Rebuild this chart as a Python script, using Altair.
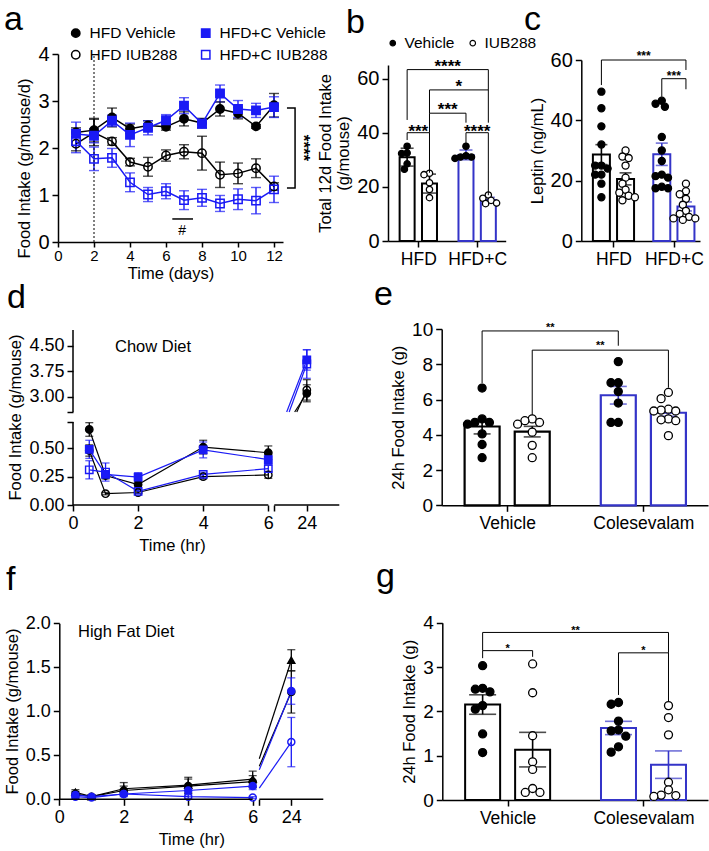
import altair as alt
import numpy as np
import pandas as pd

FONT = "Liberation Sans"
BLUE = "#1a1af5"
BARBLUE = "#3434c8"
W, H = 709, 851
TREATS = ["Vehicle", "IUB288"]

# ---------------- panel a data ----------------
a_days = [1, 2, 3, 4, 5, 6, 7, 8, 9, 10, 11, 12]
a_names = ["HFD Vehicle", "HFD IUB288", "HFD+C Vehicle", "HFD+C IUB288"]
a_hfd_veh = [2.33, 2.38, 2.65, 2.41, 2.48, 2.45, 2.62, 2.53, 2.83, 2.74, 2.46, 2.91]
a_hfd_veh_err = [0.10, 0.25, 0.20, 0.10, 0.10, 0.07, 0.15, 0.10, 0.15, 0.12, 0.04, 0.25]
a_hfdc_veh = [2.30, 2.26, 2.58, 2.28, 2.43, 2.59, 2.90, 2.52, 3.16, 2.83, 2.80, 2.87]
a_hfdc_veh_err = [0.25, 0.15, 0.12, 0.25, 0.15, 0.12, 0.17, 0.10, 0.18, 0.18, 0.15, 0.22]
a_hfd_iub = [2.09, 2.33, 2.14, 1.70, 1.60, 1.84, 1.92, 1.89, 1.43, 1.46, 1.57, 1.18]
a_hfd_iub_err = [0.15, 0.28, 0.08, 0.08, 0.20, 0.12, 0.15, 0.36, 0.27, 0.22, 0.20, 0.08]
a_hfdc_iub = [2.15, 1.77, 1.79, 1.27, 1.01, 1.08, 0.89, 0.94, 0.82, 0.91, 0.88, 1.12]
a_hfdc_iub_err = [0.25, 0.25, 0.20, 0.20, 0.15, 0.16, 0.20, 0.18, 0.17, 0.22, 0.28, 0.28]

# ---------------- panel b data (Total 12d food intake) ----------------
b_groups = ["HFD", "HFD+C"]
b_hfd_veh = [35.0, 32.5, 32.3, 28.5, 26.5]
b_hfd_iub = [25.0, 24.5, 21.5, 19.0, 16.0]
b_hfdc_veh = [35.0, 31.5, 31.0, 31.0, 30.5]
b_hfdc_iub = [17.0, 15.8, 15.0, 14.0, 13.8]
b_err = [3.3, 3.5, 1.8, 1.0]

# ---------------- panel c data (Leptin) ----------------
c_hfd_veh = [49.5, 44.0, 38.0, 32.0, 25.0, 25.0, 24.0, 22.0, 22.0, 19.0, 14.5]
c_hfd_iub = [30.0, 28.0, 27.5, 25.0, 21.0, 19.0, 17.0, 16.0, 15.0, 14.5, 13.5]
c_hfdc_veh = [46.5, 45.5, 44.5, 34.5, 30.0, 26.5, 22.0, 21.5, 21.0, 18.0, 17.5, 17.5]
c_hfdc_iub = [19.0, 16.5, 15.5, 14.0, 12.0, 10.0, 9.0, 8.0, 7.5, 7.5, 7.0]
c_err = [3.3, 2.0, 3.7, 1.5]

# ---------------- panel d data (Chow diet) ----------------
d_times = [0.5, 1, 2, 4, 6, 24]
d_hfd_veh = [0.665, 0.26, 0.18, 0.51, 0.46, 3.10]
d_hfd_veh_err = [0.06, 0.03, 0.03, 0.06, 0.06, 0.25]
d_hfd_iub = [0.48, 0.10, 0.11, 0.25, 0.265, 3.20]
d_hfd_iub_err = [0.05, 0.01, 0.01, 0.02, 0.03, 0.30]
d_c_veh = [0.49, 0.27, 0.245, 0.485, 0.40, 4.08]
d_c_veh_err = [0.08, 0.03, 0.04, 0.07, 0.04, 0.30]
d_c_iub = [0.31, 0.29, 0.12, 0.27, 0.32, 3.96]
d_c_iub_err = [0.08, 0.08, 0.02, 0.02, 0.03, 0.42]

# ---------------- panel e data ----------------
e_groups = ["Vehicle", "Colesevalam"]
e_veh_veh = [6.65, 4.9, 4.7, 4.7, 4.6, 4.05, 3.45, 2.7]
e_veh_iub = [4.9, 4.8, 4.7, 4.6, 4.15, 3.4, 2.7]
e_col_veh = [8.15, 6.95, 6.95, 6.45, 5.8, 4.7, 4.7]
e_col_iub = [6.4, 6.05, 5.45, 5.4, 5.35, 5.35, 4.9, 4.85, 4.8, 3.95]
e_err = [0.42, 0.30, 0.50, 0.20]

# ---------------- panel f data (High fat diet) ----------------
f_times = [0.5, 1, 2, 4, 6, 24]
f_s1 = [0.08, 0.03, 0.12, 0.16, 0.23, 1.58]
f_s1_err = [0.03, 0.02, 0.07, 0.09, 0.09, 0.12]
f_s2 = [0.06, 0.03, 0.10, 0.15, 0.20, 1.22]
f_s2_err = [0.03, 0.02, 0.05, 0.08, 0.07, 0.24]
f_s3 = [0.05, 0.03, 0.06, 0.10, 0.15, 1.23]
f_s3_err = [0.03, 0.02, 0.03, 0.04, 0.04, 0.15]
f_s4 = [0.03, 0.02, 0.06, 0.03, 0.02, 0.65]
f_s4_err = [0.02, 0.01, 0.02, 0.02, 0.01, 0.28]

# ---------------- panel g data ----------------
g_veh_veh = [3.03, 2.52, 2.5, 2.44, 2.13, 2.05, 1.49, 1.07]
g_veh_iub = [3.07, 2.42, 1.45, 0.86, 0.69, 0.26, 0.17, 0.17]
g_col_veh = [2.2, 2.16, 1.78, 1.58, 1.56, 1.44, 1.2, 1.08]
g_col_iub = [2.13, 1.86, 1.47, 0.4, 0.23, 0.11, 0.1, 0.08]
g_err = [0.22, 0.39, 0.15, 0.31]


# ================= helpers =================
def sc(dom, rng):
    return alt.Scale(domain=list(dom), range=list(rng), nice=False, zero=False)


def X(field, scale, axis=None):
    return alt.X(field, scale=scale, axis=axis) if axis is not None else alt.X(field, scale=scale)


def Y(field, scale, axis=None):
    return alt.Y(field, scale=scale, axis=axis) if axis is not None else alt.Y(field, scale=scale)


def left_axis(xpx, **kw):
    return alt.Axis(orient="left", offset=-xpx, titleFontWeight="normal", **kw)


def bottom_axis(ypx, **kw):
    return alt.Axis(orient="bottom", offset=ypx - H, titleFontWeight="normal", **kw)


def err_layers(df, xs, ys, cap_w, sw, xaxis=None, yaxis=None):
    rule = alt.Chart(df).mark_rule(strokeWidth=sw).encode(
        x=X("x:Q", xs, xaxis), y=Y("lo:Q", ys, yaxis), y2="hi:Q",
        color=alt.Color("col:N", scale=None))
    caps_df = pd.concat([df.assign(cy=df["lo"]), df.assign(cy=df["hi"])], ignore_index=True)
    caps = alt.Chart(caps_df).mark_tick(orient="horizontal", size=cap_w, thickness=sw).encode(
        x=X("x:Q", xs), y=Y("cy:Q", ys), color=alt.Color("col:N", scale=None))
    return [rule, caps]


def bracket_layers(brs, xs, ys, star_fs, sw=1.0):
    rows, trows = [], []
    for k, (xa, xb, ya, yb, top, lab, ystar) in enumerate(brs):
        for o, (bx, by) in enumerate([(xa, ya), (xa, top), (xb, top), (xb, yb)]):
            rows.append(dict(bid=k, o=o, x=bx, y=by))
        trows.append(dict(x=(xa + xb) / 2, y=ystar, t=lab))
    lines = alt.Chart(pd.DataFrame(rows)).mark_line(strokeWidth=sw, color="black").encode(
        x=X("x:Q", xs), y=Y("y:Q", ys), detail="bid:N", order=alt.Order("o:Q"))
    texts = alt.Chart(pd.DataFrame(trows)).mark_text(
        fontSize=star_fs, fontWeight="bold", font=FONT, color="black",
        baseline="alphabetic", align="center", dy=0.58 * star_fs).encode(
        x=X("x:Q", xs), y=Y("y:Q", ys), text="t:N")
    return [lines, texts]


def swarm(vals, ypx, diam, ppu):
    placed, offs = [], []
    cands = [0.0]
    for i in range(1, 20):
        cands += [-i * diam * 0.4, i * diam * 0.4]
    for v in vals:
        y = float(ypx(v))
        chosen = 0.0
        for c in cands:
            if all((c - px) ** 2 + (y - py) ** 2 >= (0.78 * diam) ** 2 for px, py in placed):
                chosen = c
                break
        placed.append((chosen, y))
        offs.append(chosen / ppu)
    return offs


def bar_panel(vals4, errs4, xdom, xrng, ydom, yrng, off, bar_w, diam, psize, cap_w,
              xlabels, brackets, star_fs, ylab_fs, xlab_fs, ytitle, yvals,
              bar_sw=2.0, legend=None):
    xs, ys = sc(xdom, xrng), sc(ydom, yrng)
    ppu = (xrng[1] - xrng[0]) / (xdom[1] - xdom[0])
    ypx = lambda v: np.interp(v, ydom, yrng)
    bar_rows, pt_rows, bx = [], [], []
    for i, vals in enumerate(vals4):
        g, t = divmod(i, 2)
        x = g + (off if t else -off)
        bx.append(x)
        m = float(np.mean(vals))
        col = "black" if g == 0 else BARBLUE
        bar_rows.append(dict(x=x, m=m, zero=0.0, lo=m - errs4[i], hi=m + errs4[i], col=col))
        for v, o in zip(vals, swarm(vals, ypx, diam, ppu)):
            pt_rows.append(dict(x=x + o, v=v, treat=TREATS[t], fc="black" if t == 0 else "white"))
    dfb, dfp = pd.DataFrame(bar_rows), pd.DataFrame(pt_rows)
    xaxis = bottom_axis(yrng[0], values=[0, 1], title=None, labelFontSize=xlab_fs,
                        labelExpr=f"datum.value < 0.5 ? '{xlabels[0]}' : '{xlabels[1]}'")
    yaxis = left_axis(xrng[0], values=yvals, title=ytitle, labelFontSize=ylab_fs, format="d",
                      titleY=(yrng[0] + yrng[1]) / 2)
    bars = alt.Chart(dfb).mark_bar(orient="vertical", size=bar_w, fill="white",
                                   strokeWidth=bar_sw).encode(
        x=X("x:Q", xs, xaxis), y=Y("m:Q", ys, yaxis), y2="zero:Q",
        stroke=alt.Stroke("col:N", scale=None))
    errs = err_layers(dfb, xs, ys, cap_w, 1.6)
    if legend is not None:
        fill = alt.Fill("treat:N", scale=alt.Scale(domain=TREATS, range=["black", "white"]),
                        legend=legend)
    else:
        fill = alt.Fill("fc:N", scale=None)
    pts = alt.Chart(dfp).mark_point(shape="circle", size=psize, strokeWidth=1.3, opacity=1,
                                    stroke="black").encode(
        x=X("x:Q", xs), y=Y("v:Q", ys), fill=fill)
    brs = [(bx[a], bx[b], ya, yb, top, lab, ys_) for (a, b, ya, yb, top, lab, ys_) in brackets]
    return alt.layer(bars, *errs, pts, *bracket_layers(brs, xs, ys, star_fs))


def broken_panel(times, series, xdom, xrng, ydom, yrng, xaxis, yaxis, cap_w, psize, lw,
                 vis_x, vis_y=None):
    xs, ys = sc(xdom, xrng), sc(ydom, yrng)
    fx = lambda v: np.interp(v, xdom, xrng)
    fy = lambda v: np.interp(v, ydom, yrng)
    ix = lambda p: np.interp(p, xrng, xdom)
    iy = lambda p: np.interp(p, yrng[::-1], ydom[::-1])
    err_rows, line_rows, pt_rows = [], [], []
    for name, vals, errs, col, shp, filled in series:
        for t, v, e in zip(times, vals, errs):
            err_rows.append(dict(x=t, lo=v - e, hi=v + e, col=col))
            pt_rows.append(dict(x=t, v=v, col=col, shp=shp, fc=col if filled else "transparent"))
        for t, v in zip(times[:-1], vals[:-1]):
            line_rows.append(dict(key=name + "_a", x=t, v=v, col=col))
        x0, y0 = fx(times[-2]), fy(vals[-2])
        x1, y1 = fx(times[-1]), fy(vals[-1])
        tt = (vis_x - x0) / (x1 - x0)
        if vis_y is not None:
            tt = max(tt, (y0 - vis_y) / (y0 - y1))
        sx, sy = x0 + tt * (x1 - x0), y0 + tt * (y1 - y0)
        line_rows.append(dict(key=name + "_b", x=float(ix(sx)), v=float(iy(sy)), col=col))
        line_rows.append(dict(key=name + "_b", x=times[-1], v=vals[-1], col=col))
    dfe, dfl, dfp = pd.DataFrame(err_rows), pd.DataFrame(line_rows), pd.DataFrame(pt_rows)
    errs = err_layers(dfe, xs, ys, cap_w, 1.3, xaxis, yaxis)
    lines = alt.Chart(dfl).mark_line(strokeWidth=lw).encode(
        x=X("x:Q", xs), y=Y("v:Q", ys),
        color=alt.Color("col:N", scale=None), detail="key:N")
    pts = alt.Chart(dfp).mark_point(size=psize, strokeWidth=1.4, opacity=1).encode(
        x=X("x:Q", xs), y=Y("v:Q", ys),
        shape=alt.Shape("shp:N", scale=None), fill=alt.Fill("fc:N", scale=None),
        stroke=alt.Stroke("col:N", scale=None))
    return xs, ys, [*errs, lines, pts]


# ================= panel a =================
ax_x, ax_y = sc([0, 12.5], [58, 283]), sc([0, 4], [242, 54])
rows = []
for name, vals, errs in [("HFD Vehicle", a_hfd_veh, a_hfd_veh_err), ("HFD IUB288", a_hfd_iub, a_hfd_iub_err),
                         ("HFD+C Vehicle", a_hfdc_veh, a_hfdc_veh_err), ("HFD+C IUB288", a_hfdc_iub, a_hfdc_iub_err)]:
    col = "black" if "HFD+C" not in name else BLUE
    for d, v, e in zip(a_days, vals, errs):
        rows.append(dict(series=name, x=d, v=v, lo=v - e, hi=v + e, col=col))
dfa = pd.DataFrame(rows)
a_err = err_layers(dfa, ax_x, ax_y, 10, 1.4,
                   bottom_axis(242, values=list(range(0, 13, 2)), title="Time (days)",
                               labelFontSize=15, format="d", tickSize=5, labelPadding=1,
                               titlePadding=2),
                   left_axis(58, values=[0, 1, 2, 3, 4], title="Food Intake (g/mouse/d)",
                             labelFontSize=20, format="d", titleY=168))
a_lines = alt.Chart(dfa).mark_line(strokeWidth=1.5).encode(
    x=X("x:Q", ax_x), y=Y("v:Q", ax_y),
    color=alt.Color("col:N", scale=None), detail="series:N")
leg_a = alt.Legend(orient="none", legendX=68, legendY=25, columns=2, title=None,
                   labelFont=FONT, labelFontSize=15.5, labelColor="black", symbolSize=70,
                   symbolStrokeWidth=1.5, columnPadding=20, rowPadding=5, labelOffset=6, padding=0)
a_pts = alt.Chart(dfa).mark_point(size=70, strokeWidth=1.5, opacity=1).encode(
    x=X("x:Q", ax_x), y=Y("v:Q", ax_y),
    shape=alt.Shape("series:N", scale=alt.Scale(domain=a_names, range=["circle", "circle", "square", "square"]), legend=leg_a),
    fill=alt.Fill("series:N", scale=alt.Scale(domain=a_names, range=["black", "transparent", BLUE, "transparent"]), legend=leg_a),
    stroke=alt.Stroke("series:N", scale=alt.Scale(domain=a_names, range=["black", "black", BLUE, BLUE]), legend=leg_a))
a_dot = alt.Chart(pd.DataFrame({"x": [2], "y0": [0], "y1": [4]})).mark_rule(
    strokeDash=[2, 2], strokeWidth=1, color="black").encode(
    x=X("x:Q", ax_x), y=Y("y0:Q", ax_y), y2="y1:Q")
a_br = pd.DataFrame({"bid": [0, 0, 0, 0, 1, 1], "o": [0, 1, 2, 3, 0, 1],
                     "x": [12.72, 13.17, 13.17, 12.72, 6.35, 7.5],
                     "y": [2.85, 2.85, 1.15, 1.15, 0.49, 0.49]})
a_brl = alt.Chart(a_br).mark_line(strokeWidth=1.5, color="black").encode(
    x=X("x:Q", ax_x), y=Y("y:Q", ax_y), detail="bid:N", order=alt.Order("o:Q"))
a_star = alt.Chart(pd.DataFrame({"x": [13.6], "y": [2.0], "t": ["****"]})).mark_text(
    angle=90, fontSize=17, fontWeight="bold", font=FONT, color="black", baseline="middle").encode(
    x=X("x:Q", ax_x), y=Y("y:Q", ax_y), text="t:N")
a_hash = alt.Chart(pd.DataFrame({"x": [6.9], "y": [0.24], "t": ["#"]})).mark_text(
    fontSize=14, font=FONT, color="black", baseline="middle").encode(
    x=X("x:Q", ax_x), y=Y("y:Q", ax_y), text="t:N")
panel_a = alt.layer(*a_err, a_dot, a_lines, a_pts, a_brl, a_star, a_hash)

# ================= panel b =================
leg_b = alt.Legend(orient="none", legendX=385, legendY=35, direction="horizontal", title=None,
                   labelFont=FONT, labelFontSize=15.5, labelColor="black", symbolSize=30,
                   symbolStrokeColor="black", symbolStrokeWidth=1.2, columnPadding=10,
                   labelOffset=4, padding=0, symbolType="circle")
panel_b = bar_panel(
    [b_hfd_veh, b_hfd_iub, b_hfdc_veh, b_hfdc_iub], b_err,
    [-0.43, 1.4], [388, 505.7], [0, 65], [241, 65], 0.19, 15, 7.5, 40, 13,
    b_groups,
    [(0, 1, 37.3, 25.2, 40.0, "***", 42.2), (2, 3, 35.8, 16.9, 40.0, "****", 42.2),
     (1, 2, 40.0, 43.7, 47.2, "***", 50.2), (1, 3, 47.2, 43.7, 55.8, "*", 58.5),
     (0, 3, 44.7, 55.8, 63.3, "****", 66.2)],
    17, 20, 17.5, ["Total 12d Food Intake", "(g/mouse)"], [0, 20, 40, 60], legend=leg_b)

# ================= panel c =================
panel_c = bar_panel(
    [c_hfd_veh, c_hfd_iub, c_hfdc_veh, c_hfdc_iub], c_err,
    [-0.45, 1.35], [581.3, 700], [0, 60], [241, 60], 0.2, 17, 8.5, 50, 12,
    b_groups,
    [(0, 3, 51.7, 56.7, 60.0, "***", 62.2), (2, 3, 47.8, 50.3, 53.8, "***", 55.8)],
    12, 20, 17.5, "Leptin (ng/mL)", [0, 20, 40, 60])

# ================= panel d =================
d_xdom, d_xrng = [0, 6, 23, 25], [73, 268.3, 274.3, 339.3]
d_ydom, d_yrng = [0, 0.73, 2.55, 4.96], [505, 422.1, 412, 330]
d_xaxis = bottom_axis(505, values=[0, 2, 4, 6, 23, 24], title="Time (hr)", labelFontSize=18,
                      domain=False, titleX=172, format="d",
                      labelExpr="datum.value == 23 ? '' : datum.label")
d_yaxis = left_axis(73, values=[0, 0.25, 0.5, 0.73, 2.55, 3, 3.75, 4.5], format=".2f",
                    title="Food Intake (g/mouse)", labelFontSize=18, domain=False, titleY=417,
                    labelExpr="(datum.value == 0.73 || datum.value == 2.55) ? '' : datum.label")
d_xs, d_ys, d_layers = broken_panel(
    d_times,
    [("hfd_veh", d_hfd_veh, d_hfd_veh_err, "black", "circle", True),
     ("hfd_iub", d_hfd_iub, d_hfd_iub_err, "black", "circle", False),
     ("c_veh", d_c_veh, d_c_veh_err, BLUE, "square", True),
     ("c_iub", d_c_iub, d_c_iub_err, BLUE, "square", False)],
    d_xdom, d_xrng, d_ydom, d_yrng, d_xaxis, d_yaxis, 8, 55, 1.2,
    vis_x=274.3, vis_y=412)
d_axl = alt.Chart(pd.DataFrame({"x1": [0, 0, 0, 23], "y1": [0, 2.55, 0, 0],
                                "x2": [0, 0, 6.05, 25], "y2": [0.73, 4.96, 0, 0]})).mark_rule(
    strokeWidth=1.5, color="black").encode(
    x=X("x1:Q", d_xs), y=Y("y1:Q", d_ys), x2="x2:Q", y2="y2:Q")
d_lab = alt.Chart(pd.DataFrame({"x": [1.29], "y": [4.46], "t": ["Chow Diet"]})).mark_text(
    fontSize=16.5, font=FONT, color="black", align="left", baseline="middle").encode(
    x=X("x:Q", d_xs), y=Y("y:Q", d_ys), text="t:N")
panel_d = alt.layer(*d_layers, d_axl, d_lab)

# ================= panel e =================
panel_e = bar_panel(
    [e_veh_veh, e_veh_iub, e_col_veh, e_col_iub], e_err,
    [-0.444, 1.438], [441.7, 708], [0, 10], [505.3, 329], 0.184, 35, 9.5, 64, 17,
    e_groups,
    [(0, 2, 6.92, 9.05, 9.89, "**", 10.25), (1, 3, 5.12, 6.67, 8.8, "**", 9.2)],
    11, 19, 17.5, "24h Food Intake (g)", [0, 2, 4, 6, 8, 10], bar_sw=2.2)

# ================= panel f =================
f_xdom, f_xrng = [0, 6, 23, 25], [59.3, 252.7, 259.3, 323.3]
f_ydom, f_yrng = [0, 2], [799.3, 623.3]
f_xaxis = bottom_axis(799.3, values=[0, 2, 4, 6, 23, 24], title="Time (hr)", labelFontSize=18,
                      domain=False, format="d", labelExpr="datum.value == 23 ? '' : datum.label")
f_yaxis = left_axis(59.3, values=[0, 0.5, 1, 1.5, 2], format=".1f",
                    title="Food Intake (g/mouse)", labelFontSize=18, titleY=711)
f_xs, f_ys, f_layers = broken_panel(
    f_times,
    [("s1", f_s1, f_s1_err, "black", "triangle-up", True),
     ("s2", f_s2, f_s2_err, "black", "circle", True),
     ("s3", f_s3, f_s3_err, BLUE, "circle", True),
     ("s4", f_s4, f_s4_err, BLUE, "circle", False)],
    f_xdom, f_xrng, f_ydom, f_yrng, f_xaxis, f_yaxis, 8, 50, 1.2, vis_x=259.3)
f_axl = alt.Chart(pd.DataFrame({"x1": [0, 23], "y1": [0, 0], "x2": [6, 25], "y2": [0, 0]})).mark_rule(
    strokeWidth=1.5, color="black").encode(
    x=X("x1:Q", f_xs), y=Y("y1:Q", f_ys), x2="x2:Q", y2="y2:Q")
f_lab = alt.Chart(pd.DataFrame({"x": [0.58], "y": [1.905], "t": ["High Fat Diet"]})).mark_text(
    fontSize=16.5, font=FONT, color="black", align="left", baseline="middle").encode(
    x=X("x:Q", f_xs), y=Y("y:Q", f_ys), text="t:N")
panel_f = alt.layer(*f_layers, f_axl, f_lab)

# ================= panel g =================
panel_g = bar_panel(
    [g_veh_veh, g_veh_iub, g_col_veh, g_col_iub], g_err,
    [-0.444, 1.438], [442.3, 708], [0, 4], [800, 622.7], 0.184, 35, 9.5, 64, 27,
    e_groups,
    [(0, 3, 3.37, 3.32, 3.78, "**", 3.90), (0, 1, 3.2, 3.23, 3.37, "*", 3.48),
     (2, 3, 2.37, 2.22, 3.32, "*", 3.44)],
    11, 19, 17.5, "24h Food Intake (g)", [0, 1, 2, 3, 4], bar_sw=2.0)

# ================= panel letters =================
letters = pd.DataFrame({"t": list("abcdefg"),
                        "px": [4, 346, 524, 7, 374, 6, 376],
                        "py": [30, 33, 30, 308, 305, 590, 587]})
letter_layer = alt.Chart(letters).mark_text(
    align="left", baseline="alphabetic", fontSize=34, font=FONT, color="black").encode(
    x=alt.X("px:Q", scale=None, axis=None), y=alt.Y("py:Q", scale=None, axis=None), text="t:N")

chart = alt.layer(panel_a, panel_b, panel_c, panel_d, panel_e, panel_f, panel_g, letter_layer).resolve_scale(
    x="independent", y="independent", color="independent", fill="independent",
    stroke="independent", shape="independent").resolve_axis(
    x="independent", y="independent").properties(
    width=W, height=H, autosize=alt.AutoSizeParams(type="none"), padding=0,
    background="white").configure_view(stroke=None).configure_axis(
    labelFont=FONT, titleFont=FONT, titleFontWeight="normal", titleFontSize=16.5,
    labelColor="black", titleColor="black", domainColor="black", tickColor="black",
    domainWidth=1.5, tickWidth=1.5, tickSize=6, grid=False, labelFlush=False,
    labelOverlap=False, labelPadding=3, titlePadding=5)

chart.save("out.html", embed_options={"renderer": "svg", "actions": False})
